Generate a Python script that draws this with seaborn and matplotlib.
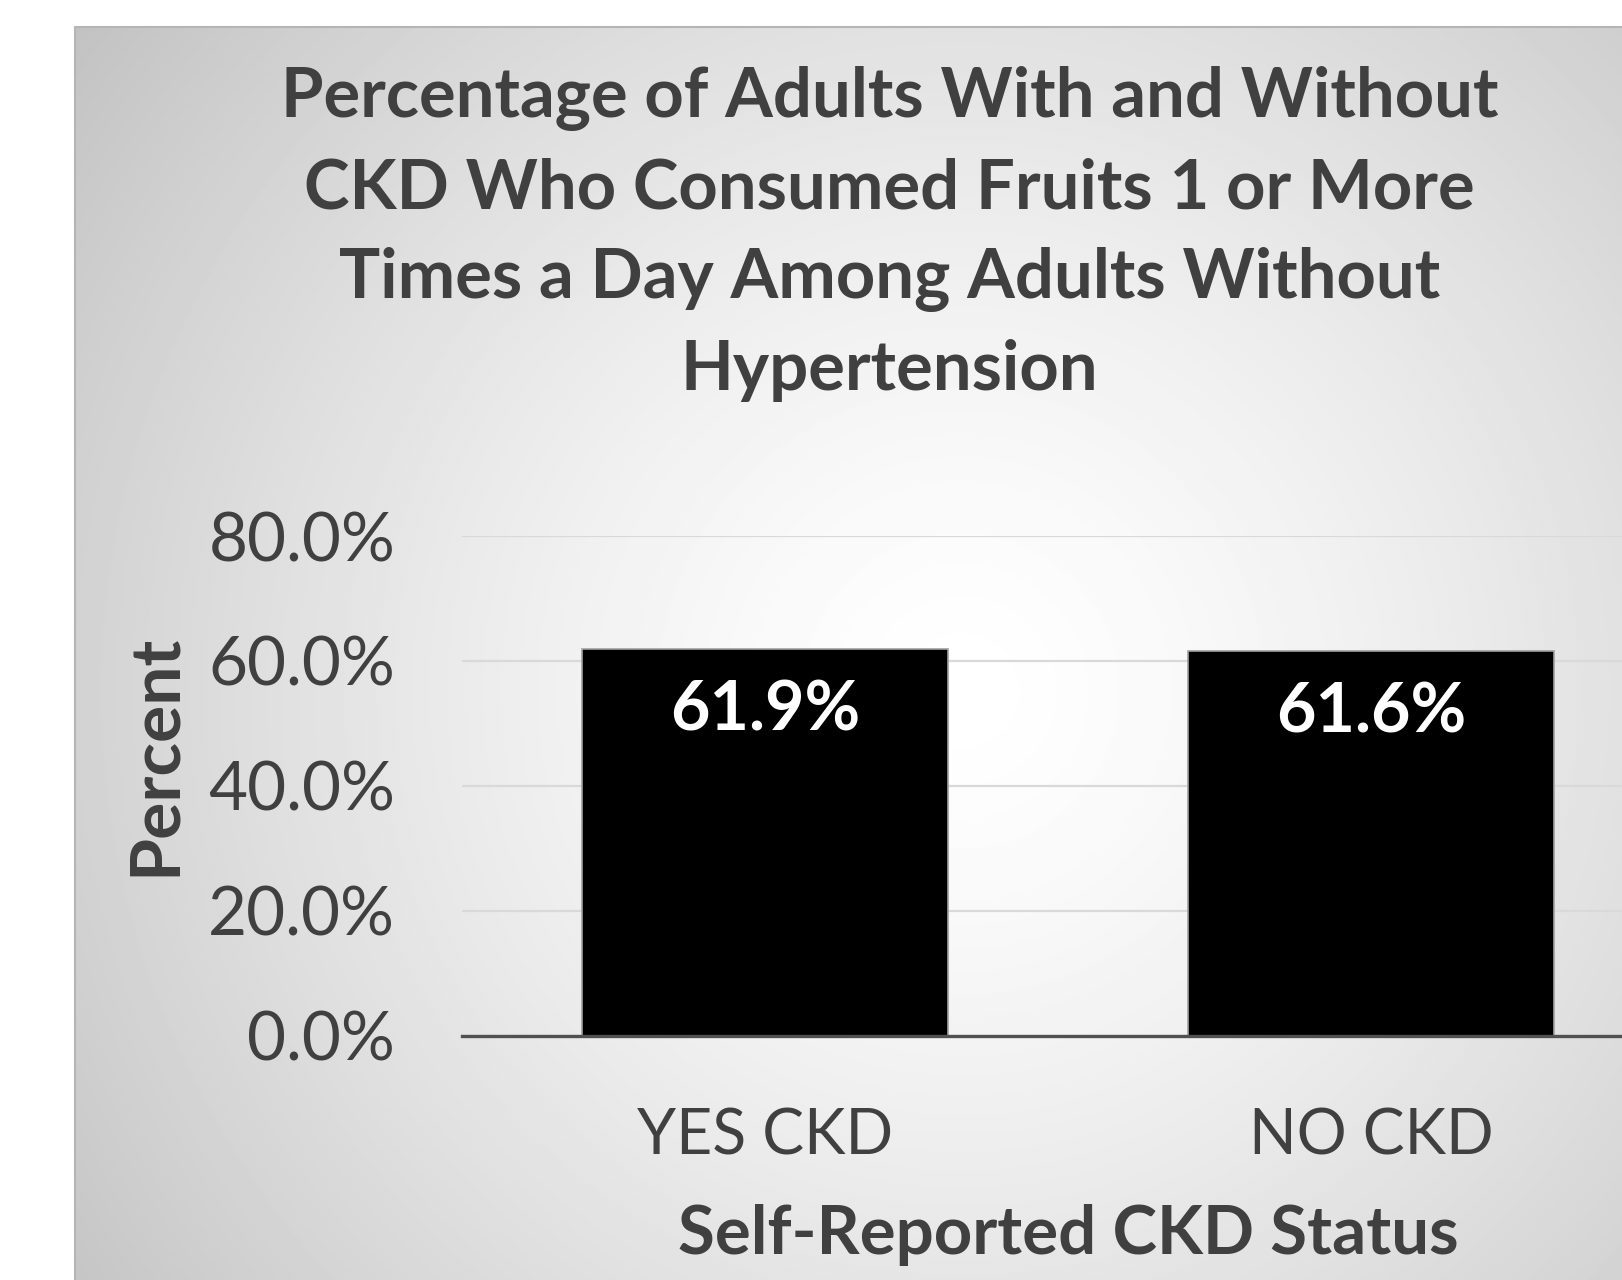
import numpy as np
import pandas as pd
import matplotlib
matplotlib.use("Agg")
import matplotlib.pyplot as plt
from matplotlib.ticker import FuncFormatter
import seaborn as sns

# Data
categories = ["YES CKD", "NO CKD"]
percent_values = [61.9, 61.6]
y_ticks = [0, 20, 40, 60, 80]

title_lines = [
    "Percentage of Adults With and Without",
    "CKD Who Consumed Fruits 1 or More",
    "Times a Day Among Adults Without",
    "Hypertension",
]
x_title = "Self-Reported CKD Status"
y_title = "Percent"

df = pd.DataFrame({"status": categories, "percent": percent_values})

sns.set_theme(style="white")
plt.rcParams["font.family"] = ["Lato", "DejaVu Sans"]

TEXT = "#404040"
W, H = 1622, 1280
fig = plt.figure(figsize=(W / 100, H / 100), dpi=100, facecolor="white")

# Chart panel with a radial grey-to-white fill
px0, py0 = 74.5, 26.0
bg = fig.add_axes([px0 / W, 0, 1 - px0 / W, 1 - py0 / H], zorder=0)
gx = np.arange(px0, W, 2.0)
gy = np.arange(py0, H, 2.0)
XX, YY = np.meshgrid(gx, gy)
cx, cy = 960.0, 690.0
r = np.hypot(XX - cx, YY - cy)
shade = 1.0 - 0.235 * (r / 1093.0) ** 1.4
shade = np.clip(shade, 0, 1)
bg.imshow(shade, cmap="gray", vmin=0, vmax=1, aspect="auto",
          extent=[px0, W, H, py0], interpolation="bilinear")
bg.set_xlim(px0, W)
bg.set_ylim(H, py0)
bg.axis("off")
bg.plot([px0 + 0.5, px0 + 0.5, W], [H, py0 + 0.5, py0 + 0.5],
        color="#b5b5b5", lw=1.5, clip_on=False)

# Plot area
left, right = 462.0, 1674.0
bottom, top = 1035.5, 536.0
ax = fig.add_axes([left / W, 1 - bottom / H, (right - left) / W, (bottom - top) / H],
                  zorder=1)
ax.patch.set_alpha(0)

sns.barplot(data=df, x="status", y="percent", color="black", width=0.604,
            edgecolor="#a0a0a0", linewidth=1.2, saturation=1, ax=ax, zorder=3)

ax.set_ylim(0, 80)
ax.set_xlim(-0.5, 1.5)
ax.set_yticks(y_ticks)
ax.yaxis.set_major_formatter(FuncFormatter(lambda v, _: f"{v:.1f}%"))
ax.grid(axis="y", color="#d9d9d9", lw=1.6, zorder=0)
ax.set_axisbelow(True)
for s in ["top", "right", "left"]:
    ax.spines[s].set_visible(False)
ax.spines["bottom"].set_color("#505050")
ax.spines["bottom"].set_linewidth(2.4)
ax.spines["bottom"].set_zorder(4)
ax.tick_params(axis="both", length=0, colors=TEXT)
ax.tick_params(axis="y", pad=48, labelsize=48.5)
ax.tick_params(axis="x", pad=52, labelsize=45)

for i, v in enumerate(percent_values):
    ax.text(i, v - 9.9, f"{v:.1f}%", ha="center", va="center",
            color="white", fontsize=49, fontweight="bold", zorder=5)

ax.set_xlabel(x_title, fontsize=48.3, fontweight="bold", color=TEXT, va="center")
ax.xaxis.set_label_coords(0.5, (bottom - 1235) / (bottom - top))
ax.set_ylabel(y_title, fontsize=50, fontweight="bold", color=TEXT, va="center")
ax.yaxis.set_label_coords((155 - left) / (right - left), (bottom - 755) / (bottom - top))

fig.text(889.6 / W, 1 - 234.0 / H, "\n".join(title_lines), ha="center", va="center",
         fontsize=49.5, fontweight="bold", color=TEXT, linespacing=1.52)

fig.savefig("out.png", dpi=100, facecolor="white")
